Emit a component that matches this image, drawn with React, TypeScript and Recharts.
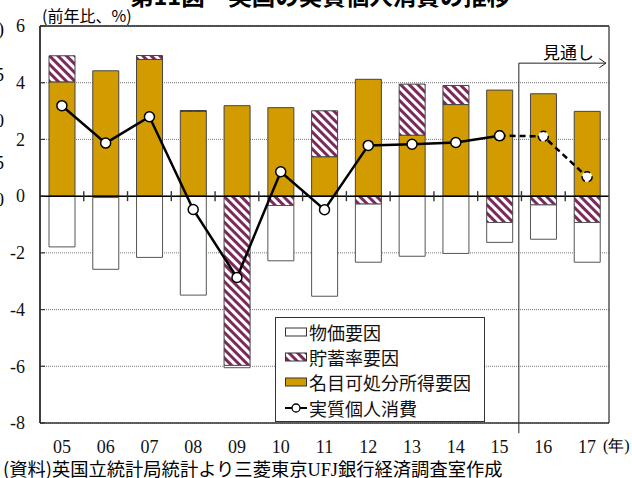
import React from 'react'
import {
  ComposedChart, Bar, Line, XAxis, YAxis, CartesianGrid,
  ReferenceLine, Legend,
} from 'recharts'

// 前年比、%
const years = ['05', '06', '07', '08', '09', '10', '11', '12', '13', '14', '15', '16', '17']
const nominalIncome = [4.03, 4.42, 4.82, 2.99, 3.19, 3.12, 1.39, 4.12, 2.15, 3.23, 3.74, 3.61, 2.99]
const savingsRate = [0.92, -0.05, 0.14, 0.03, -5.97, -0.33, 1.62, -0.28, 1.8, 0.67, -0.93, -0.31, -0.93]
const priceFactor = [-1.79, -2.53, -2.16, -3.49, -0.08, -1.95, -3.53, -2.05, -2.12, -2.02, -0.7, -1.21, -1.4]
const realActual = [3.19, 1.87, 2.8, -0.47, -2.87, 0.86, -0.48, 1.79, 1.83, 1.89, 2.13, null, null]
const realOutlook = [null, null, null, null, null, null, null, null, null, null, 2.13, 2.11, 0.68]
const yTicks = [-8, -6, -4, -2, 0, 2, 4, 6]
const leftRemnants = [')', '5', '0', '5', '0']

const data = years.map((year, i) => ({
  year,
  slot: i + 0.5,
  nominal: nominalIncome[i],
  savings: savingsRate[i],
  price: priceFactor[i],
  real: realActual[i],
  outlook: realOutlook[i],
}))

const ORANGE = '#D29C00'
const MAROON = '#7B2A5B'
const SERIF = '"Liberation Serif", "Times New Roman", serif'
const GOTHIC = '"Noto Sans CJK JP", "Noto Sans", sans-serif'

// outlook marker sits just left of the 15/16 boundary
const OUTLOOK_X = 10.94
const ARROW_Y = 4.69

function HatchDef({ id }: { id: string }) {
  return (
    <defs>
      <pattern id={id} width="6" height="6" patternUnits="userSpaceOnUse" patternTransform="rotate(-45)">
        <rect width="6" height="6" fill="#fff" />
        <rect width="3" height="6" fill={MAROON} />
      </pattern>
    </defs>
  )
}

// zero line with the little category-boundary ticks crossing it
function ZeroLine(p: any) {
  const n = years.length
  const step = (p.x2 - p.x1) / n
  return (
    <g>
      <line x1={p.x1} y1={p.y1} x2={p.x2} y2={p.y2} stroke="#000" strokeWidth={1.5} />
      {years.slice(1).map((_, i) => {
        const x = p.x1 + step * (i + 1)
        return <line key={i} x1={x} x2={x} y1={p.y1 - 5} y2={p.y1 + 5} stroke="#333" strokeWidth={1.4} />
      })}
    </g>
  )
}

function YTick(p: any) {
  const axisX = p.x + 15
  return (
    <g>
      <text x={p.x} y={p.y} dy="0.35em" textAnchor="end" fontFamily={SERIF} fontSize={18} fill="#111">{p.payload.value}</text>
      <line x1={axisX} x2={axisX + 5} y1={p.y} y2={p.y} stroke="#333" strokeWidth={1.2} />
    </g>
  )
}

function LegendBox() {
  const rows = [
    { label: '物価要因', kind: 'price' },
    { label: '貯蓄率要因', kind: 'savings' },
    { label: '名目可処分所得要因', kind: 'nominal' },
    { label: '実質個人消費', kind: 'line' },
  ]
  return (
    <div style={{ border: '1px solid #333', background: '#fff', padding: '1px 0 1px 9px', width: 199 }}>
      {rows.map(r => (
        <div key={r.label} style={{ display: 'flex', alignItems: 'center', height: 25.3 }}>
          <svg width={23} height={12} style={{ marginRight: 1 }}>
            <HatchDef id="legendHatch" />
            {r.kind === 'line' ? (
              <g>
                <line x1={0} y1={6} x2={22} y2={6} stroke="#000" strokeWidth={2} />
                <circle cx={11} cy={6} r={4} fill="#fff" stroke="#000" strokeWidth={1.3} />
              </g>
            ) : (
              <rect x={0.5} y={2} width={21} height={8} stroke="#333" strokeWidth={1}
                fill={r.kind === 'price' ? '#fff' : r.kind === 'nominal' ? ORANGE : 'url(#legendHatch)'} />
            )}
          </svg>
          <span style={{ fontFamily: GOTHIC, fontSize: 18, lineHeight: 1, color: '#111' }}>{r.label}</span>
        </div>
      ))}
    </div>
  )
}

export default function App() {
  return (
    <div style={{ position: 'relative', width: 632, height: 478, overflow: 'hidden', background: '#fff' }}>
      <style>{'body{margin:0}'}</style>
      <div style={{ position: 'absolute', left: 130, top: -16, fontFamily: GOTHIC, fontWeight: 700, fontSize: 23.5, lineHeight: 1, whiteSpace: 'nowrap' }}>
        第11図　英国の実質個人消費の推移
      </div>
      {leftRemnants.map((t, i) => (
        <div key={i} style={{ position: 'absolute', left: i === 0 ? -2 : -5, top: [20, 66, 112, 154, 191][i], fontFamily: SERIF, fontSize: 18, lineHeight: 1 }}>{t}</div>
      ))}
      <div style={{ position: 'absolute', left: 42, top: 7, fontFamily: GOTHIC, fontSize: 16, lineHeight: 1, whiteSpace: 'nowrap' }}>
        (前年比、%)
      </div>
      <ComposedChart
        width={632}
        height={478}
        data={data}
        stackOffset="sign"
        margin={{ top: 26, right: 23, left: 0, bottom: 0 }}
      >
        <HatchDef id="hatch" />
        <CartesianGrid horizontal vertical={false} stroke="#777" strokeDasharray="1 1" />
        <XAxis
          xAxisId="cat"
          dataKey="year"
          height={55}
          axisLine={false}
          tickLine={false}
          tickMargin={11}
          interval={0}
          tick={{ fontFamily: SERIF, fontSize: 18, fill: '#111' }}
        />
        <XAxis xAxisId="num" dataKey="slot" type="number" domain={[0, 13]} hide allowDataOverflow />
        <YAxis
          width={40}
          domain={[-8, 6]}
          ticks={yTicks}
          interval={0}
          tickLine={false}
          tickMargin={9}
          axisLine={{ stroke: '#000', strokeWidth: 1.5 }}
          tick={<YTick />}
        />
        <Bar xAxisId="cat" dataKey="nominal" stackId="a" barSize={26} fill={ORANGE} stroke="#444" strokeWidth={1} isAnimationActive={false} />
        <Bar xAxisId="cat" dataKey="savings" stackId="a" barSize={26} fill="url(#hatch)" stroke="#444" strokeWidth={1} isAnimationActive={false} />
        <Bar xAxisId="cat" dataKey="price" stackId="a" barSize={26} fill="#fff" stroke="#555" strokeWidth={1} isAnimationActive={false} />
        <ReferenceLine xAxisId="cat" y={0} shape={<ZeroLine />} />
        {/* plot frame */}
        <ReferenceLine xAxisId="num" ifOverflow="visible" segment={[{ x: 0, y: 6 }, { x: 13, y: 6 }]} stroke="#222" strokeWidth={1.5} />
        <ReferenceLine xAxisId="num" ifOverflow="visible" segment={[{ x: 13, y: 6 }, { x: 13, y: -8 }]} stroke="#555" strokeWidth={1.5} />
        <ReferenceLine xAxisId="num" ifOverflow="visible" segment={[{ x: 0, y: -8 }, { x: 13, y: -8 }]} stroke="#333" strokeWidth={1.5} />
        {/* 見通し marker */}
        <ReferenceLine xAxisId="num" ifOverflow="visible" segment={[{ x: OUTLOOK_X, y: ARROW_Y }, { x: OUTLOOK_X, y: -8.36 }]} stroke="#222" strokeWidth={1} />
        <ReferenceLine xAxisId="num" ifOverflow="visible" segment={[{ x: OUTLOOK_X, y: ARROW_Y }, { x: 12.93, y: ARROW_Y }]} stroke="#222" strokeWidth={1} />
        <ReferenceLine xAxisId="num" ifOverflow="visible" segment={[{ x: 12.78, y: ARROW_Y + 0.16 }, { x: 12.93, y: ARROW_Y }]} stroke="#222" strokeWidth={1} />
        <ReferenceLine xAxisId="num" ifOverflow="visible" segment={[{ x: 12.93, y: ARROW_Y }, { x: 12.78, y: ARROW_Y - 0.16 }]} stroke="#222" strokeWidth={1} />
        <Line xAxisId="cat" dataKey="outlook" stroke="#000" strokeWidth={2.5} strokeDasharray="6 4"
          dot={{ r: 5, fill: '#fff', stroke: '#000', strokeWidth: 1.5 }} isAnimationActive={false} />
        <Line xAxisId="cat" dataKey="real" stroke="#000" strokeWidth={2.5}
          dot={{ r: 5, fill: '#fff', stroke: '#000', strokeWidth: 1.5 }} isAnimationActive={false} />
        <Legend
          layout="vertical"
          align="center"
          verticalAlign="middle"
          wrapperStyle={{ left: 275, top: 317, width: 210 }}
          content={() => <LegendBox />}
        />
      </ComposedChart>
      <div style={{ position: 'absolute', left: 543, top: 43, fontFamily: GOTHIC, fontSize: 17, lineHeight: 1 }}>見通し</div>
      <div style={{ position: 'absolute', left: 603, top: 438, fontFamily: SERIF, fontSize: 16, lineHeight: 1 }}>(年)</div>
      <div style={{ position: 'absolute', left: 3, top: 459, fontFamily: GOTHIC, fontSize: 18.3, lineHeight: 1, whiteSpace: 'nowrap' }}>
        (資料)英国立統計局統計より三菱東京<span style={{ fontFamily: SERIF }}>UFJ</span>銀行経済調査室作成
      </div>
    </div>
  )
}
